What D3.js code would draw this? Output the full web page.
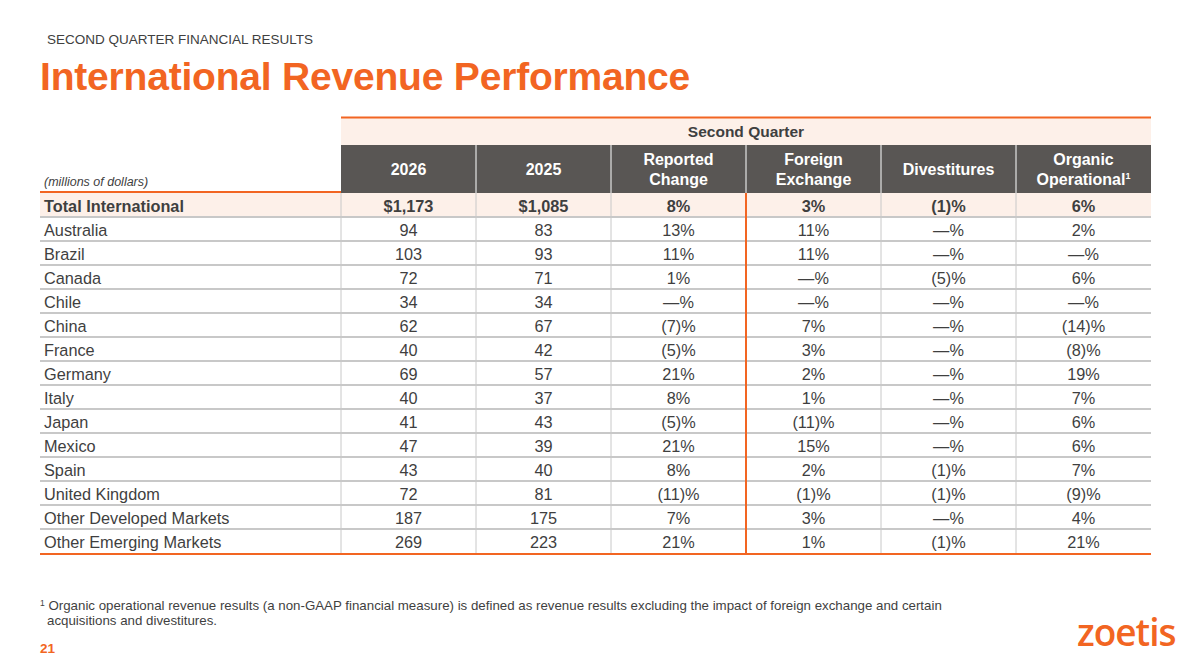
<!DOCTYPE html>
<html><head><meta charset="utf-8">
<script src="https://cdn.jsdelivr.net/npm/d3@7"></script>
<style>
body{margin:0;background:#fff;}
svg{display:block;font-family:"Liberation Sans",Arial,sans-serif;}
</style></head>
<body>
<svg id="c" width="1187" height="672"></svg>
<script>
const columns = ["2026","2025","Reported Change","Foreign Exchange","Divestitures","Organic Operational"];
const categories = ["Total International","Australia","Brazil","Canada","Chile","China","France","Germany","Italy","Japan","Mexico","Spain","United Kingdom","Other Developed Markets","Other Emerging Markets"];
const rev2026 = ["$1,173","94","103","72","34","62","40","69","40","41","47","43","72","187","269"];
const rev2025 = ["$1,085","83","93","71","34","67","42","57","37","43","39","40","81","175","223"];
const reportedChange = ["8%","13%","11%","1%","—%","(7)%","(5)%","21%","8%","(5)%","21%","8%","(11)%","7%","21%"];
const foreignExchange = ["3%","11%","11%","—%","—%","7%","3%","2%","1%","(11)%","15%","2%","(1)%","3%","1%"];
const divestitures = ["(1)%","—%","—%","(5)%","—%","—%","—%","—%","—%","—%","—%","(1)%","(1)%","—%","(1)%"];
const organicOperational = ["6%","2%","—%","6%","—%","(14)%","(8)%","19%","7%","6%","6%","7%","(9)%","4%","21%"];

const series = [rev2026, rev2025, reportedChange, foreignExchange, divestitures, organicOperational];
const ORANGE = "#F26522", DARK = "#595654", PEACH = "#FDF0E9", TXT = "#3F3F3F", GRID = "#C8C8C8";

const svg = d3.select("#c");
const tableL = 40, labelR = 341, tableR = 1151;
const x = d3.scaleBand().domain(d3.range(columns.length)).range([labelR, tableR]);
const y = d3.scaleBand().domain(d3.range(categories.length)).range([193, 553]);

// header texts
svg.append("text").attr("x",47).attr("y",44).attr("font-size",13.5).attr("fill","#404040").text("SECOND QUARTER FINANCIAL RESULTS");
svg.append("text").attr("x",40).attr("y",90).attr("font-size",39).attr("font-weight","bold").attr("fill",ORANGE).attr("letter-spacing",-0.2).text("International Revenue Performance");

// Second Quarter band
svg.append("rect").attr("x",labelR).attr("y",118).attr("width",tableR-labelR).attr("height",27).attr("fill",PEACH);
svg.append("line").attr("x1",labelR).attr("x2",tableR).attr("y1",117.5).attr("y2",117.5).attr("stroke",ORANGE).attr("stroke-width",2);
svg.append("text").attr("x",(labelR+tableR)/2).attr("y",137).attr("text-anchor","middle").attr("font-size",15.5).attr("font-weight","bold").attr("fill",TXT).text("Second Quarter");

// dark header
svg.append("rect").attr("x",labelR).attr("y",145).attr("width",tableR-labelR).attr("height",48).attr("fill",DARK);
const hdr = svg.append("g");
columns.forEach((c,i)=>{
  const cx = x(i)+x.bandwidth()/2;
  if(i>0) hdr.append("line").attr("x1",x(i)).attr("x2",x(i)).attr("y1",145).attr("y2",193).attr("stroke","#fff").attr("stroke-width",1);
  const words = c.split(" ");
  const t = hdr.append("text").attr("text-anchor","middle").attr("font-size",16).attr("font-weight","bold").attr("fill","#fff");
  if(words.length===1){ t.attr("x",cx).attr("y",175).text(c); }
  else {
    t.append("tspan").attr("x",cx).attr("y",165).text(words[0]);
    t.append("tspan").attr("x",cx).attr("y",185).text(words[1]);
    if(c==="Organic Operational"){ t.append("tspan").attr("font-size",9).attr("dy",-6).text("1"); }
  }
});
svg.append("text").attr("x",44).attr("y",186).attr("font-size",12.5).attr("font-style","italic").attr("fill",TXT).text("(millions of dollars)");

// rows
const rows = svg.append("g");
categories.forEach((cat,r)=>{
  const ry = y(r), h = y.bandwidth();
  if(r===0) rows.append("rect").attr("x",tableL).attr("y",ry).attr("width",tableR-tableL).attr("height",h).attr("fill",PEACH);
  if(r>0) rows.append("line").attr("x1",tableL).attr("x2",tableR).attr("y1",ry).attr("y2",ry).attr("stroke",GRID).attr("stroke-width",2);
  const bold = r===0;
  rows.append("text").attr("x",44).attr("y",ry+h/2+7).attr("font-size",16.3).attr("font-weight",bold?"bold":"normal").attr("fill",TXT).text(cat);
  series.forEach((s,i)=>{
    rows.append("text").attr("x",x(i)+x.bandwidth()/2).attr("y",ry+h/2+7).attr("text-anchor","middle")
      .attr("font-size",16.3).attr("font-weight",bold?"bold":"normal").attr("fill",TXT).text(s[r]);
  });
});
// vertical grid lines
d3.range(columns.length).forEach(i=>{
  svg.append("line").attr("x1",x(i)).attr("x2",x(i)).attr("y1",193).attr("y2",553)
    .attr("stroke", i===3?ORANGE:GRID).attr("stroke-width", i===3?2:1);
});
// orange lines
svg.append("line").attr("x1",tableL).attr("x2",labelR).attr("y1",192).attr("y2",192).attr("stroke",ORANGE).attr("stroke-width",2);
svg.append("line").attr("x1",tableL).attr("x2",tableR).attr("y1",554).attr("y2",554).attr("stroke",ORANGE).attr("stroke-width",2);

// footnote
const fn = svg.append("text").attr("x",40).attr("y",610).attr("font-size",13.3).attr("fill",TXT);
fn.append("tspan").attr("font-size",8.5).attr("dy",-4).text("1");
fn.append("tspan").attr("dy",4).text(" Organic operational revenue results (a non-GAAP financial measure) is defined as revenue results excluding the impact of foreign exchange and certain");
svg.append("text").attr("x",47).attr("y",625).attr("font-size",13.3).attr("fill",TXT).text("acquisitions and divestitures.");
svg.append("text").attr("x",40).attr("y",653).attr("font-size",13.5).attr("font-weight","bold").attr("fill",ORANGE).text("21");

// logo
svg.append("text").attr("x",1077).attr("y",646).attr("font-size",37).attr("font-weight",600).attr("font-family","'Open Sans',sans-serif").attr("fill",ORANGE).attr("letter-spacing",-1).text("zoetis");
</script>
</body></html>
